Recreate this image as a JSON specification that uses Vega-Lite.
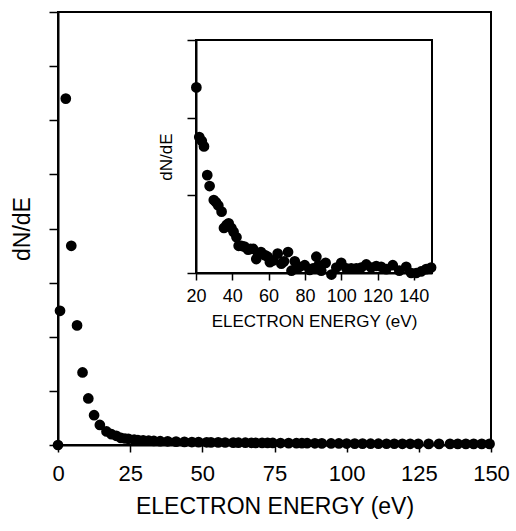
{
  "$schema": "https://vega.github.io/schema/vega-lite/v6.json",
  "width": 433,
  "height": 433,
  "autosize": {"type": "none"},
  "padding": {"left": 58, "top": 12, "right": 25, "bottom": 86},
  "background": "white",
  "config": {
    "font": "Liberation Sans",
    "view": {"stroke": "black", "strokeWidth": 2},
    "axis": {
      "grid": false,
      "domainColor": "black",
      "domainWidth": 2,
      "tickColor": "black",
      "tickWidth": 1.5,
      "labelColor": "black",
      "titleColor": "black",
      "titleFontWeight": "normal",
      "labelFlush": false,
      "labelOverlap": false,
      "labelFont": "Liberation Sans",
      "titleFont": "Liberation Sans"
    }
  },
  "datasets": {
    "main": [
      {"E": 0, "v": 0}, {"E": 0.7, "v": 2.48}, {"E": 2.7, "v": 6.4}, {"E": 4.6, "v": 3.68},
      {"E": 6.6, "v": 2.21}, {"E": 8.5, "v": 1.34}, {"E": 10.5, "v": 0.86}, {"E": 12.5, "v": 0.55},
      {"E": 14.5, "v": 0.37}, {"E": 16.8, "v": 0.25}, {"E": 18.5, "v": 0.2}, {"E": 20.2, "v": 0.17},
      {"E": 21.8, "v": 0.13}, {"E": 23.2, "v": 0.12}, {"E": 24.4, "v": 0.115}, {"E": 26.4, "v": 0.1},
      {"E": 27.7, "v": 0.09}, {"E": 29.5, "v": 0.085}, {"E": 31.4, "v": 0.08}, {"E": 33.2, "v": 0.075},
      {"E": 35.4, "v": 0.07}, {"E": 38, "v": 0.068}, {"E": 40.9, "v": 0.063}, {"E": 43.8, "v": 0.058},
      {"E": 46.4, "v": 0.055}, {"E": 48.7, "v": 0.053}, {"E": 51.5, "v": 0.05}, {"E": 53, "v": 0.049},
      {"E": 55.5, "v": 0.048}, {"E": 57.9, "v": 0.046}, {"E": 60.7, "v": 0.044}, {"E": 62.5, "v": 0.043},
      {"E": 64.9, "v": 0.043}, {"E": 67, "v": 0.041}, {"E": 68.5, "v": 0.04}, {"E": 70.7, "v": 0.04},
      {"E": 72.6, "v": 0.039}, {"E": 74.4, "v": 0.038}, {"E": 77.1, "v": 0.036}, {"E": 79.9, "v": 0.035},
      {"E": 82.6, "v": 0.033}, {"E": 84.5, "v": 0.033}, {"E": 86.3, "v": 0.033}, {"E": 89, "v": 0.031},
      {"E": 91.4, "v": 0.03}, {"E": 94.6, "v": 0.028}, {"E": 97.3, "v": 0.028}, {"E": 100, "v": 0.027},
      {"E": 102.8, "v": 0.025}, {"E": 105.5, "v": 0.025}, {"E": 108.3, "v": 0.024}, {"E": 111, "v": 0.024},
      {"E": 113.8, "v": 0.023}, {"E": 116.5, "v": 0.023}, {"E": 119.3, "v": 0.022}, {"E": 122, "v": 0.022},
      {"E": 124.8, "v": 0.021}, {"E": 128.4, "v": 0.021}, {"E": 132, "v": 0.02}, {"E": 135.8, "v": 0.02},
      {"E": 138.5, "v": 0.02}, {"E": 141.3, "v": 0.02}, {"E": 144, "v": 0.02}, {"E": 146.8, "v": 0.02},
      {"E": 149.5, "v": 0.02}
    ],
    "inset": [
      {"E": 20.2, "v": 2.39}, {"E": 21.8, "v": 1.75}, {"E": 23.2, "v": 1.7}, {"E": 24.4, "v": 1.63},
      {"E": 26.2, "v": 1.26}, {"E": 27.5, "v": 1.12}, {"E": 29.8, "v": 0.94}, {"E": 31, "v": 0.91},
      {"E": 32.3, "v": 0.87}, {"E": 34.1, "v": 0.79}, {"E": 35.4, "v": 0.58}, {"E": 36.9, "v": 0.62},
      {"E": 38, "v": 0.64}, {"E": 39.5, "v": 0.58}, {"E": 40.7, "v": 0.53}, {"E": 42.3, "v": 0.46},
      {"E": 43.5, "v": 0.35}, {"E": 45, "v": 0.35}, {"E": 46.7, "v": 0.34}, {"E": 48.7, "v": 0.3},
      {"E": 50, "v": 0.31}, {"E": 51.5, "v": 0.31}, {"E": 53.2, "v": 0.18}, {"E": 54.3, "v": 0.25},
      {"E": 55.8, "v": 0.27}, {"E": 57.9, "v": 0.23}, {"E": 59.5, "v": 0.21}, {"E": 60.7, "v": 0.14},
      {"E": 62.5, "v": 0.16}, {"E": 65, "v": 0.25}, {"E": 67, "v": 0.12}, {"E": 68.5, "v": 0.15},
      {"E": 70.7, "v": 0.27}, {"E": 72.6, "v": 0.03}, {"E": 74.4, "v": 0.15}, {"E": 76, "v": 0.07},
      {"E": 77.1, "v": 0.08}, {"E": 79.9, "v": 0.1}, {"E": 82.6, "v": 0.04}, {"E": 84.5, "v": 0.06},
      {"E": 86.3, "v": 0.21}, {"E": 87.5, "v": 0.1}, {"E": 89, "v": 0.03}, {"E": 91.4, "v": 0.13},
      {"E": 94.6, "v": -0.02}, {"E": 97.3, "v": 0.07}, {"E": 100, "v": 0.13}, {"E": 102.8, "v": 0.06},
      {"E": 105.5, "v": 0.06}, {"E": 108.3, "v": 0.06}, {"E": 111, "v": 0.07}, {"E": 113.8, "v": 0.11},
      {"E": 116.5, "v": 0.07}, {"E": 119.3, "v": 0.09}, {"E": 122, "v": 0.08}, {"E": 124.8, "v": 0.05},
      {"E": 128.4, "v": 0.1}, {"E": 132, "v": 0.03}, {"E": 135.8, "v": 0.08}, {"E": 138.5, "v": 0.0},
      {"E": 141.3, "v": 0.0}, {"E": 144, "v": 0.02}, {"E": 146.8, "v": 0.05}, {"E": 149.5, "v": 0.07}
    ]
  },
  "layer": [
    {
      "data": {"name": "main"},
      "mark": {"type": "point", "filled": true, "size": 115, "opacity": 1, "color": "black", "clip": false},
      "encoding": {
        "x": {
          "field": "E", "type": "quantitative",
          "scale": {"domain": [0, 150], "nice": false, "zero": false},
          "axis": {
            "orient": "bottom", "values": [0, 25, 50, 75, 100, 125, 150],
            "title": "ELECTRON ENERGY (eV)", "labelFontSize": 22, "titleFontSize": 23,
            "tickSize": 7, "labelPadding": 11, "titlePadding": 11
          }
        },
        "y": {
          "field": "v", "type": "quantitative",
          "scale": {"domain": [0, 8], "nice": false},
          "axis": {
            "orient": "left", "values": [0, 1, 2, 3, 4, 5, 6, 7, 8], "labels": false,
            "tickSize": 9, "title": "dN/dE", "titleFontSize": 23, "titlePadding": 14
          }
        }
      }
    },
    {
      "layer": [
        {
          "data": {"values": [{"frame": "inset"}]},
          "mark": {"type": "rect", "fill": null, "stroke": "black", "strokeWidth": 2},
          "encoding": {
            "x": {"datum": 20, "type": "quantitative"},
            "x2": {"datum": 150},
            "y": {"datum": 0, "type": "quantitative"},
            "y2": {"datum": 3}
          }
        },
        {
          "data": {"name": "inset"},
          "mark": {"type": "point", "filled": true, "size": 115, "opacity": 1, "color": "black", "clip": false},
          "encoding": {
            "x": {"field": "E", "type": "quantitative"},
            "y": {"field": "v", "type": "quantitative"}
          }
        }
      ],
      "encoding": {
        "x": {
          "type": "quantitative",
          "scale": {"domain": [20, 150], "range": [138, 374], "nice": false, "zero": false},
          "axis": {
            "orient": "bottom", "offset": -172, "values": [20, 40, 60, 80, 100, 120, 140],
            "title": "ELECTRON ENERGY (eV)", "labelFontSize": 18, "titleFontSize": 17,
            "tickSize": 7, "labelPadding": 7, "titlePadding": 8
          }
        },
        "y": {
          "type": "quantitative",
          "scale": {"domain": [0, 3], "range": [261, 28], "nice": false, "zero": false},
          "axis": {
            "orient": "left", "offset": -138, "values": [0, 1, 2, 3], "labels": false,
            "tickSize": 9, "title": "dN/dE", "titleFontSize": 17, "titlePadding": 11
          }
        }
      }
    }
  ],
  "resolve": {
    "scale": {"x": "independent", "y": "independent"},
    "axis": {"x": "independent", "y": "independent"}
  }
}
